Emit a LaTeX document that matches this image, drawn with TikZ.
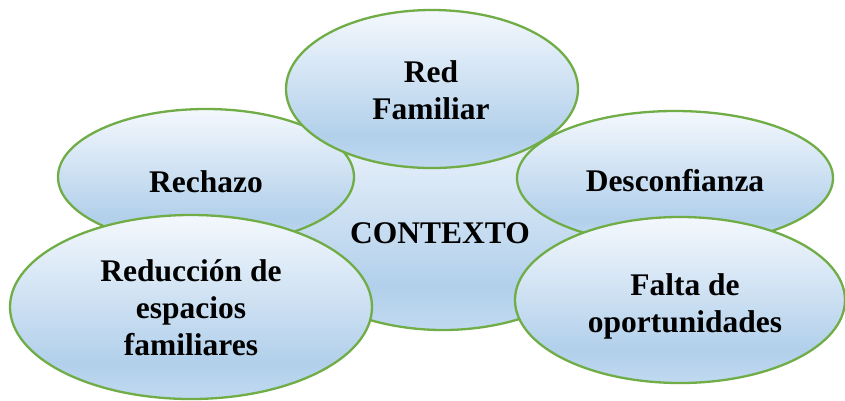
\documentclass[tikz,border=0pt]{standalone}
\usepackage{fontspec}
\setmainfont{Liberation Serif}
\usetikzlibrary{shapes.geometric}
\definecolor{ctop}{RGB}{244,248,253}
\definecolor{cmid}{RGB}{178,208,235}
\definecolor{cbot}{RGB}{192,217,240}
\definecolor{edgegreen}{RGB}{112,173,71}
\pgfdeclareverticalshading{officeblue}{100bp}{color(0bp)=(cbot); color(25bp)=(cbot); color(35bp)=(cmid); color(75bp)=(ctop); color(100bp)=(ctop)}
\tikzset{
  bubble/.style={ellipse, draw=edgegreen, line width=2.3pt, shading=officeblue, inner sep=0pt},
  lbl/.style={font=\bfseries\fontsize{31.5}{37}\selectfont, align=center, inner sep=0pt, text=black}
}
\begin{document}
\begin{tikzpicture}[x=1pt,y=-1pt]
\useasboundingbox (0,0) rectangle (845,400);
\fill[white] (0,0) rectangle (845,400);
\node[bubble, minimum width=350pt, minimum height=220pt] (ctx) at (443,220) {};
\node[bubble, minimum width=296pt, minimum height=136pt] (rech) at (206,177) {};
\node[bubble, minimum width=316pt, minimum height=134pt] (desc) at (675,178) {};
\node[bubble, minimum width=292pt, minimum height=158pt] (red) at (432,89) {};
\node[bubble, minimum width=362pt, minimum height=184pt] (redu) at (191,307) {};
\node[bubble, minimum width=330pt, minimum height=166pt] (falta) at (680,300) {};
\node[lbl] (tred) at (431,90.5) {Red\\Familiar};
\node[lbl] (trech) at (206,181.5) {Rechazo};
\node[lbl] (tdesc) at (675,180.5) {Desconfianza};
\node[lbl] (tctx) at (440,233.5) {CONTEXTO};
\node[lbl] (tredu) at (191,307.5) {Reducción de\\espacios\\familiares};
\node[lbl] (tfalta) at (685,306) {Falta de\\oportunidades};
\end{tikzpicture}
\end{document}
